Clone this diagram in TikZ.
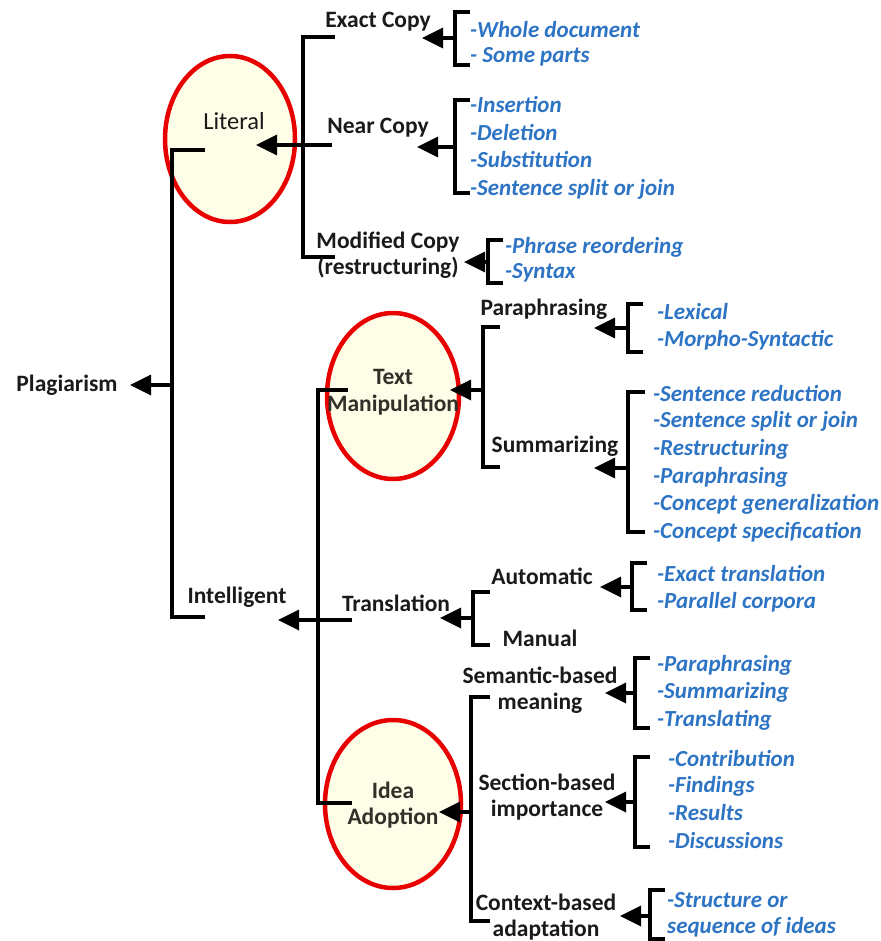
\documentclass[tikz,border=0pt]{standalone}
\usepackage{fontspec}
\setmainfont{Carlito}
\usetikzlibrary{arrows.meta,shapes.geometric}
\definecolor{itemblue}{RGB}{46,116,196}
\definecolor{ellfill}{RGB}{253,253,232}
\definecolor{ellred}{RGB}{232,0,0}
\definecolor{labdark}{RGB}{26,26,26}
\begin{document}
\begin{tikzpicture}[x=1pt,y=-1pt,
  brk/.style={line width=4pt, line join=miter},
  arr/.style={line width=3.5pt, -{Triangle[length=21pt,width=20pt]}},
  lab/.style={font=\fontsize{23.5}{26.5}\selectfont\bfseries, text=labdark, inner sep=0pt, align=center},
  itm/.style={font=\fontsize{23}{26}\selectfont\bfseries\itshape, text=itemblue, inner sep=0pt, anchor=west},
  ell/.style={ellipse, draw=ellred, line width=4.5pt, fill=ellfill, inner sep=0pt}
]
\useasboundingbox (0,0) rectangle (880,941);

% ellipses
\node[ell, minimum width=130pt, minimum height=166pt] (lit) at (230,139) {};
\node[ell, minimum width=132pt, minimum height=166pt] (tm) at (393,396) {};
\node[ell, minimum width=136pt, minimum height=168pt] (ia) at (393,804) {};

% root
\node[lab] (plag) at (67,385) {Plagiarism};
\coordinate (mbT) at (205,150); \coordinate (mbB) at (205,617);
\coordinate (mbM) at (172,385); \coordinate (mbTip) at (130,385);
\draw[brk] (mbT) -- (172,150) -- (172,617) -- (mbB);
\draw[arr] (mbM) -- (mbTip);

% literal
\node[font=\fontsize{24.5}{28}\selectfont, text=labdark, inner sep=0pt] (littxt) at (234,121) {Literal};
\draw[brk] (335,37) -- (303,37) -- (303,257) -- (335,257);
\coordinate (litS) at (332,145); \coordinate (litTip) at (256,145);
\draw[arr] (litS) -- (litTip);

\node[lab] (exact) at (378,22) {Exact Copy};
\draw[brk] (470,12) -- (455,12) -- (455,65) -- (470,65);
\coordinate (exS) at (455,38); \coordinate (exTip) at (422,38);
\draw[arr] (exS) -- (exTip);
\node[itm] (e1) at (470,30) {-Whole document};
\node[itm] (e2) at (470,57) {- Some parts};

\node[lab] (near) at (378,128) {Near Copy};
\draw[brk] (470,100) -- (455,100) -- (455,193) -- (470,193);
\coordinate (nrS) at (455,147); \coordinate (nrTip) at (417,147);
\draw[arr] (nrS) -- (nrTip);
\node[itm] (n1) at (470,105) {-Insertion};
\node[itm] (n2) at (470,133) {-Deletion};
\node[itm] (n3) at (470,160) {-Substitution};
\node[itm] (n4) at (470,189) {-Sentence split or join};

\node[lab] (mod) at (388,255) {Modified Copy\\(restructuring)};
\draw[brk] (503,240) -- (488,240) -- (488,283) -- (503,283);
\coordinate (mdS) at (488,262); \coordinate (mdTip) at (464,262);
\draw[arr] (mdS) -- (mdTip);
\node[itm] (m1) at (505,247) {-Phrase reordering};
\node[itm] (m2) at (505,273) {-Syntax};

% intelligent
\node[lab] (intel) at (237,597) {Intelligent};
\draw[brk] (348,390) -- (318,390) -- (318,803) -- (352,803);
\coordinate (inS) at (352,620); \coordinate (inTip) at (278,620);
\draw[arr] (inS) -- (inTip);

% text manipulation
\node[lab, text=black!85!olive] (tmtxt) at (393,392) {Text\\Manipulation};
\draw[brk] (500,327) -- (483,327) -- (483,467) -- (500,467);
\coordinate (tmS) at (483,390); \coordinate (tmTip) at (450,390);
\draw[arr] (tmS) -- (tmTip);

\node[lab] (para) at (544,309) {Paraphrasing};
\draw[brk] (643,304) -- (628,304) -- (628,352) -- (643,352);
\coordinate (paS) at (628,328); \coordinate (paTip) at (594,328);
\draw[arr] (paS) -- (paTip);
\node[itm] (p1) at (657,312) {-Lexical};
\node[itm] (p2) at (657,340) {-Morpho-Syntactic};

\node[lab] (summ) at (555,446) {Summarizing};
\draw[brk] (645,392) -- (628,392) -- (628,532) -- (645,532);
\coordinate (suS) at (628,468); \coordinate (suTip) at (594,468);
\draw[arr] (suS) -- (suTip);
\node[itm] (s1) at (653,394) {-Sentence reduction};
\node[itm] (s2) at (653,421) {-Sentence split or join};
\node[itm] (s3) at (653,449) {-Restructuring};
\node[itm] (s4) at (653,477) {-Paraphrasing};
\node[itm] (s5) at (653,504) {-Concept generalization};
\node[itm] (s6) at (653,532) {-Concept specification};

% translation
\node[lab] (trans) at (396,603) {Translation};
\draw[brk] (490,592) -- (473,592) -- (473,645) -- (490,645);
\coordinate (trS) at (473,618); \coordinate (trTip) at (440,618);
\draw[arr] (trS) -- (trTip);

\node[lab] (auto) at (542,576) {Automatic};
\node[lab] (manual) at (540,638) {Manual};
\draw[brk] (647,563) -- (632,563) -- (632,610) -- (647,610);
\coordinate (auS) at (632,587); \coordinate (auTip) at (600,587);
\draw[arr] (auS) -- (auTip);
\node[itm] (a1) at (657,574) {-Exact translation};
\node[itm] (a2) at (657,602) {-Parallel corpora};

% idea adoption
\node[lab, text=black!85!olive] (iatxt) at (393,805) {Idea\\Adoption};
\draw[brk] (490,697) -- (471,697) -- (471,921) -- (490,921);
\coordinate (iaS) at (471,812); \coordinate (iaTip) at (439,812);
\draw[arr] (iaS) -- (iaTip);

\node[lab] (sem) at (540,690) {Semantic-based\\meaning};
\draw[brk] (650,658) -- (635,658) -- (635,728) -- (650,728);
\coordinate (seS) at (635,693); \coordinate (seTip) at (605,693);
\draw[arr] (seS) -- (seTip);
\node[itm] (x1) at (657,665) {-Paraphrasing};
\node[itm] (x2) at (657,692) {-Summarizing};
\node[itm] (x3) at (657,720) {-Translating};

\node[lab] (sec) at (547,797) {Section-based\\importance};
\draw[brk] (650,757) -- (635,757) -- (635,847) -- (650,847);
\coordinate (scS) at (635,802); \coordinate (scTip) at (605,802);
\draw[arr] (scS) -- (scTip);
\node[itm] (y1) at (668,758) {-Contribution};
\node[itm] (y2) at (668,786) {-Findings};
\node[itm] (y3) at (668,813) {-Results};
\node[itm] (y4) at (668,841) {-Discussions};

\node[lab] (ctx) at (546,917) {Context-based\\adaptation};
\draw[brk] (665,890) -- (650,890) -- (650,939) -- (665,939);
\coordinate (cxS) at (650,916); \coordinate (cxTip) at (620,916);
\draw[arr] (cxS) -- (cxTip);
\node[itm] (z1) at (667,900) {-Structure or};
\node[itm] (z2) at (667,927) {sequence of ideas};
\end{tikzpicture}
\end{document}
